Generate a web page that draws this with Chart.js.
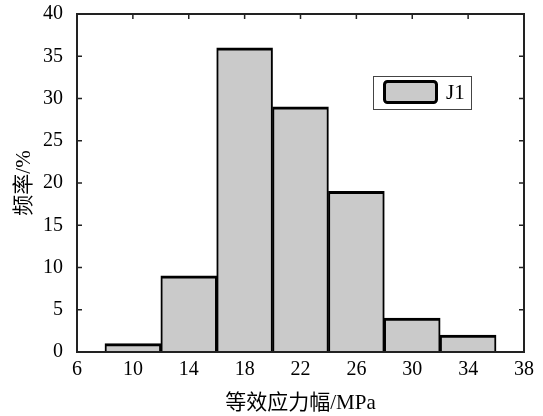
<!DOCTYPE html>
<html>
<head>
<meta charset="utf-8">
<script src="https://cdn.jsdelivr.net/npm/chart.js@4/dist/chart.umd.min.js"></script>
<style>
	html, body { margin:0; padding:0; background:#fff; }
	#wrap { width:543px; height:416px; }
</style>
</head>
<body>
<div id="wrap"><canvas id="histCanvas"></canvas></div>
<script>
/* 구간 중심값 (MPa) */
const binCenters = [10, 14, 18, 22, 26, 30, 34]
/* 빈도 (%) */
const freqJ1 = [1, 9, 36, 29, 19, 4, 2]
/* 축 눈금 */
const xTicks = [6, 10, 14, 18, 22, 26, 30, 34, 38]
const yTicks = [0, 5, 10, 15, 20, 25, 30, 35, 40]

const serif = "'Liberation Serif', 'Noto Sans CJK SC', serif"

/* 테두리 + 안쪽 눈금 */
const frameTicks = {
	id : 'frameTicks'
	,beforeDatasetsDraw(chart){
		const ctx = chart.ctx
		const a = chart.chartArea
		const xs = chart.scales.x
		const ys = chart.scales.y
		ctx.save()
		ctx.strokeStyle = '#222'
		ctx.lineWidth = 1.5
		ctx.beginPath()
		for(let i=1;i<xTicks.length-1;i++){
			let px = xs.getPixelForValue(xTicks[i])
			ctx.moveTo(px, a.top); ctx.lineTo(px, a.top+5)
			ctx.moveTo(px, a.bottom); ctx.lineTo(px, a.bottom-5)
		}
		for(let i=1;i<yTicks.length-1;i++){
			let py = ys.getPixelForValue(yTicks[i])
			ctx.moveTo(a.left, py); ctx.lineTo(a.left+5, py)
			ctx.moveTo(a.right, py); ctx.lineTo(a.right-5, py)
		}
		ctx.stroke()
		ctx.restore()
	}
	,afterDatasetsDraw(chart){
		const ctx = chart.ctx
		const a = chart.chartArea
		ctx.save()
		ctx.strokeStyle = '#222'
		ctx.lineWidth = 2
		ctx.strokeRect(a.left, a.top, a.right-a.left, a.bottom-a.top)
		ctx.restore()
	}
}

/* 범례 (그래프 안쪽) */
const innerLegend = {
	id : 'innerLegend'
	,afterDraw(chart){
		const ctx = chart.ctx
		const a = chart.chartArea
		const ds = chart.data.datasets[0]
		let bx = a.right - 151
		let by = a.top + 62
		ctx.save()
		ctx.fillStyle = '#fff'
		ctx.fillRect(bx, by, 98, 33)
		ctx.strokeStyle = '#444'
		ctx.lineWidth = 1
		ctx.strokeRect(bx+0.5, by+0.5, 98, 33)
		/* 색상 상자 */
		ctx.beginPath()
		ctx.roundRect(bx+11.5, by+5.5, 52, 21, 3)
		ctx.fillStyle = ds.backgroundColor
		ctx.fill()
		ctx.strokeStyle = '#000'
		ctx.lineWidth = 3
		ctx.stroke()
		ctx.fillStyle = '#000'
		ctx.font = '21px ' + serif
		ctx.textBaseline = 'middle'
		ctx.fillText(ds.label, bx+73, by+17)
		ctx.restore()
	}
}

Chart.defaults.font.family = serif
Chart.defaults.color = '#000'

let histChart = new Chart(document.getElementById('histCanvas'), {
	type : 'bar'
	,data : {
		datasets : [
			{
				label : 'J1'
				,data : binCenters.map((c, i) => ({ x : c, y : freqJ1[i] }))
				,backgroundColor : '#cacaca'
				,borderColor : '#000'
				,borderWidth : { top : 3, left : 2, right : 2, bottom : 0 }
				,borderSkipped : false
				,barPercentage : 1
				,categoryPercentage : 1
			}
		]
	}
	,options : {
		responsive : true
		,maintainAspectRatio : false
		,animation : false
		,layout : { padding : { top : 2, right : 19, left : 0, bottom : 0 } }
		,plugins : {
			legend : { display : false }
			,tooltip : { enabled : false }
		}
		,scales : {
			x : {
				type : 'linear'
				,min : xTicks[0]
				,max : xTicks[xTicks.length-1]
				,offset : false
				,grid : { display : false, drawTicks : false }
				,border : { display : false }
				,afterBuildTicks : (scale) => { scale.ticks = xTicks.map(v => ({ value : v })) }
				,afterFit : (scale) => { scale.height = 64 }
				,ticks : { font : { size : 20 }, padding : 6, maxRotation : 0, autoSkip : false }
				,title : {
					display : true
					,text : '等效应力幅/MPa'
					,font : { size : 21 }
					,padding : { top : 0, bottom : 0 }
				}
			}
			,y : {
				min : yTicks[0]
				,max : yTicks[yTicks.length-1]
				,grid : { display : false, drawTicks : true, tickLength : 12 }
				,border : { display : false }
				,afterBuildTicks : (scale) => { scale.ticks = yTicks.map(v => ({ value : v })) }
				,afterFit : (scale) => { scale.width = 77 }
				,ticks : { font : { size : 20 }, padding : 2 }
				,title : {
					display : true
					,text : '频率/%'
					,font : { size : 21 }
					,padding : { top : 12, bottom : 0 }
				}
			}
		}
	}
	,plugins : [frameTicks, innerLegend]
})
</script>
</body>
</html>
